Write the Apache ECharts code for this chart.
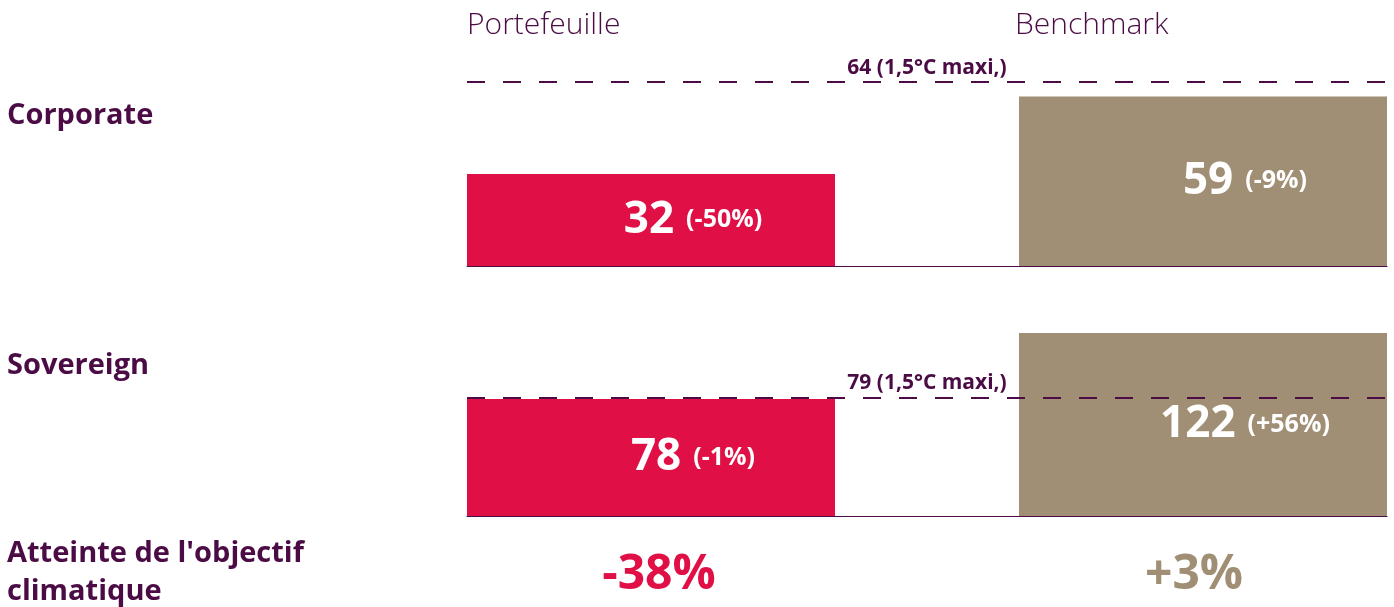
<!DOCTYPE html>
<html>
<head>
<meta charset="utf-8">
<script src="https://cdn.jsdelivr.net/npm/echarts@6/dist/echarts.min.js"></script>
<style>
	html, body { margin: 0; padding: 0; background: #fff; }
	#main { width: 1394px; height: 607px; }
</style>
</head>
<body>
<div id="main"></div>
<script>
// données
var categories = ['Portefeuille', 'Benchmark'];
var rows = ['Corporate', 'Sovereign'];
var corporate = [32, 59];
var corporateChange = ['-50%', '-9%'];
var sovereign = [78, 122];
var sovereignChange = ['-1%', '+56%'];
var targets = [64, 79];
var targetNote = '1,5°C maxi,';
var objectiveLabel = "Atteinte de l'objectif\nclimatique";
var objective = ['-38%', '+3%'];

var purple = '#4b0c45';
var colors = ['#e01046', '#a08f74'];
var font = '"Open Sans", "Noto Sans", sans-serif';

function barLabel(changes, offset) {
	return {
		show: true,
		position: 'inside',
		offset: offset,
		formatter: function(p) {
			return '{n|' + p.value + '}{c|(' + changes[p.seriesIndex % 2] + ')}';
		},
		rich: {
			n: { color: '#fff', fontSize: 44, fontWeight: 'bold', fontFamily: font, verticalAlign: 'middle' },
			c: { color: '#fff', fontSize: 25, fontWeight: 'bold', fontFamily: font, verticalAlign: 'middle', padding: [0, 0, 0, 12] }
		}
	};
}

function target(value) {
	return {
		symbol: 'none',
		silent: true,
		z: 5,
		lineStyle: { color: purple, type: [18, 18], width: 2 },
		label: {
			show: true,
			position: 'middle',
			distance: 4,
			formatter: value + ' (' + targetNote + ')',
			color: purple,
			fontSize: 21,
			fontWeight: 'bold',
			fontFamily: font
		},
		data: [{ yAxis: value }]
	};
}

var series = [];
[[corporate, corporateChange], [sovereign, sovereignChange]].forEach(function(row, g) {
	categories.forEach(function(name, i) {
		var s = {
			name: name,
			type: 'bar',
			xAxisIndex: g,
			yAxisIndex: g,
			barWidth: 368,
			barGap: '50%',
			itemStyle: { color: colors[i] },
			label: barLabel(row[1], [42, 0]),
			data: [row[0][i]]
		};
		if (i == 0) {
			s.markLine = target(targets[g]);
		}
		series.push(s);
	});
});

var titles = [];
// en-têtes
titles.push({ text: categories[0], left: 462, top: 5, textStyle: { color: purple, fontSize: 30, fontWeight: 300, fontFamily: font } });
titles.push({ text: categories[1], left: 1010, top: 5, textStyle: { color: purple, fontSize: 30, fontWeight: 300, fontFamily: font } });
// lignes
titles.push({ text: rows[0], left: 2, top: 96, textStyle: { color: purple, fontSize: 29, fontWeight: 'bold', fontFamily: font } });
titles.push({ text: rows[1], left: 2, top: 346, textStyle: { color: purple, fontSize: 29, fontWeight: 'bold', fontFamily: font } });
titles.push({ text: objectiveLabel, left: 2, top: 530, textStyle: { color: purple, fontSize: 29, fontWeight: 'bold', fontFamily: font, lineHeight: 38 } });
// objectif climatique
titles.push({ text: objective[0], left: 654, textAlign: 'center', top: 546, textStyle: { color: colors[0], fontSize: 48, fontWeight: 'bold', fontFamily: font } });
titles.push({ text: objective[1], left: 1189, textAlign: 'center', top: 546, textStyle: { color: colors[1], fontSize: 48, fontWeight: 'bold', fontFamily: font } });

var axisX = function(g) {
	return {
		type: 'category',
		gridIndex: g,
		data: [rows[g]],
		axisLine: { show: true, lineStyle: { color: purple, width: 1 } },
		axisTick: { show: false },
		axisLabel: { show: false }
	};
};
var axisY = function(g, max) {
	return {
		type: 'value',
		gridIndex: g,
		min: 0,
		max: max,
		show: false,
		splitLine: { show: false }
	};
};

var option = {
	animation: false,
	title: titles,
	grid: [
		{ left: 467, right: 7, top: 65, bottom: 341 },
		{ left: 467, right: 7, top: 321, bottom: 91 }
	],
	xAxis: [axisX(0), axisX(1)],
	yAxis: [axisY(0, 70), axisY(1, 130)],
	series: series
};

var chart = echarts.init(document.getElementById('main'));
chart.setOption(option);
</script>
</body>
</html>
